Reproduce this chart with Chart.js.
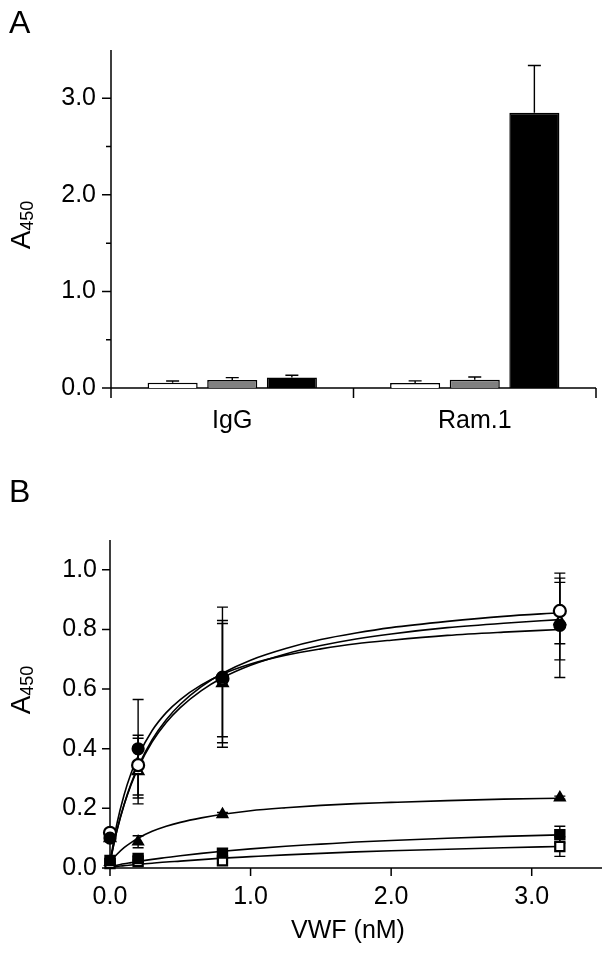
<!DOCTYPE html>
<html><head><meta charset="utf-8">
<script src="https://cdn.jsdelivr.net/npm/chart.js@4.4.1/dist/chart.umd.min.js"></script>
<style>
html,body{margin:0;padding:0;background:#fff;}
body{width:612px;height:954px;position:relative;overflow:hidden;}
#wa{position:absolute;left:0;top:0;width:612px;height:470px;}
#wb{position:absolute;left:0;top:470px;width:612px;height:484px;}
</style></head><body>
<div id="wa"><canvas id="ca"></canvas></div>
<div id="wb"><canvas id="cb"></canvas></div>
<script>
// ---------- Panel A data ----------
const categories = ['IgG', 'Ram.1'];
const barWhite = [0.055, 0.052];
const barWhiteErr = [0.018, 0.022];
const barGray = [0.082, 0.086];
const barGrayErr = [0.025, 0.028];
const barBlack = [0.11, 2.85];
const barBlackErr = [0.022, 0.49];
const aYTicks = [0, 1, 2, 3];
const aYLabels = ['0.0', '1.0', '2.0', '3.0'];
const aYMinor = [0.5, 1.5, 2.5];

// ---------- Panel B data ----------
const vwf = [0, 0.2, 0.8, 3.2];
const openCircle = [0.118, 0.345, 0.635, 0.862];
const openCircleErr = [0.012, 0.10, 0.195, 0.11];
const filledCircle = [0.10, 0.40, 0.64, 0.814];
const filledCircleErr = [0.01, 0.165, 0.235, 0.175];
const openTriangle = [0.10, 0.325, 0.62, 0.828];
const openTriangleErr = [0.01, 0.11, 0.20, 0.13];
const filledTriangle = [0.02, 0.088, 0.18, 0.236];
const filledTriangleErr = [0.005, 0.02, 0.006, 0.005];
const filledSquare = [0.025, 0.032, 0.05, 0.112];
const filledSquareErr = [0.005, 0.008, 0.008, 0.028];
const openSquare = [0.015, 0.022, 0.024, 0.072];
const openSquareErr = [0.005, 0.005, 0.006, 0.033];

// fitted curves
const curveX = [0, 0.05, 0.1, 0.15, 0.2, 0.3, 0.4, 0.5, 0.65, 0.8, 1.0, 1.25, 1.5, 1.75, 2.0, 2.4, 2.8, 3.2];
const curveOpenCircle = [0.02, 0.128, 0.213, 0.283, 0.340, 0.430, 0.497, 0.549, 0.608, 0.653, 0.697, 0.736, 0.766, 0.788, 0.806, 0.827, 0.844, 0.856];
const curveFilledCircle = [0.02, 0.150, 0.245, 0.318, 0.375, 0.461, 0.521, 0.565, 0.614, 0.650, 0.684, 0.714, 0.735, 0.752, 0.764, 0.780, 0.791, 0.800];
const curveOpenTriangle = [0.02, 0.126, 0.211, 0.279, 0.335, 0.423, 0.488, 0.538, 0.595, 0.638, 0.680, 0.718, 0.746, 0.768, 0.785, 0.806, 0.821, 0.833];
const curveFilledTriangle = [0.02, 0.046, 0.068, 0.085, 0.100, 0.123, 0.140, 0.153, 0.168, 0.180, 0.192, 0.202, 0.210, 0.216, 0.220, 0.226, 0.231, 0.234];
const curveFilledSquare = [0.005, 0.0095, 0.014, 0.018, 0.022, 0.029, 0.035, 0.041, 0.049, 0.056, 0.064, 0.073, 0.080, 0.087, 0.092, 0.100, 0.106, 0.111];
const curveOpenSquare = [0.003, 0.005, 0.008, 0.010, 0.012, 0.016, 0.020, 0.023, 0.028, 0.033, 0.038, 0.044, 0.049, 0.054, 0.058, 0.063, 0.068, 0.072];
const bYTicks = [0, 0.2, 0.4, 0.6, 0.8, 1.0];
const bYLabels = ['0.0', '0.2', '0.4', '0.6', '0.8', '1.0'];
const bXTicks = [0, 1, 2, 3];
const bXLabels = ['0.0', '1.0', '2.0', '3.0'];

const FONT = "'Liberation Sans', Arial, Helvetica, sans-serif";
Chart.defaults.font.family = FONT;
Chart.defaults.font.size = 25;
Chart.defaults.color = '#000';

function yTitle(ctx, cx, cy) {
  ctx.save();
  ctx.translate(cx, cy);
  ctx.rotate(-Math.PI / 2);
  ctx.fillStyle = '#000';
  ctx.textBaseline = 'alphabetic';
  ctx.textAlign = 'left';
  ctx.font = '28px ' + FONT;
  const wA = ctx.measureText('A').width;
  ctx.font = '18px ' + FONT;
  const wS = ctx.measureText('450').width;
  const start = -(wA + wS) / 2;
  ctx.font = '28px ' + FONT;
  ctx.fillText('A', start, 10);
  ctx.font = '18px ' + FONT;
  ctx.fillText('450', start + wA, 13);
  ctx.restore();
}
function letter(ctx, t, x, y) {
  ctx.save();
  ctx.fillStyle = '#000';
  ctx.font = '32px ' + FONT;
  ctx.textBaseline = 'alphabetic';
  ctx.textAlign = 'left';
  ctx.fillText(t, x, y);
  ctx.restore();
}

// ---------- Panel A ----------
const axesA = {
  id: 'axesA',
  beforeDatasetsDraw(chart) {
    const ctx = chart.ctx, {left, right, top, bottom} = chart.chartArea;
    const y = chart.scales.y, x = chart.scales.x;
    ctx.save();
    ctx.strokeStyle = '#000';
    ctx.lineWidth = 1.5;
    ctx.beginPath();
    ctx.moveTo(left, top); ctx.lineTo(left, bottom);
    ctx.moveTo(left, bottom); ctx.lineTo(right, bottom);
    aYTicks.forEach(v => { const p = y.getPixelForValue(v); ctx.moveTo(left - 9, p); ctx.lineTo(left, p); });
    aYMinor.forEach(v => { const p = y.getPixelForValue(v); ctx.moveTo(left - 5, p); ctx.lineTo(left, p); });
    const mid = (x.getPixelForValue(0) + x.getPixelForValue(1)) / 2;
    [left, mid, right].forEach(p => { ctx.moveTo(p, bottom); ctx.lineTo(p, bottom + 10); });
    ctx.stroke();
    ctx.restore();
  },
  afterDatasetsDraw(chart) {
    const ctx = chart.ctx, y = chart.scales.y;
    ctx.save();
    ctx.strokeStyle = '#000';
    ctx.lineWidth = 1.4;
    chart.data.datasets.forEach((ds, i) => {
      const meta = chart.getDatasetMeta(i);
      meta.data.forEach((bar, j) => {
        const t = y.getPixelForValue(ds.data[j] + ds.errors[j]);
        ctx.beginPath();
        ctx.moveTo(bar.x, bar.y); ctx.lineTo(bar.x, t);
        ctx.moveTo(bar.x - 6.5, t); ctx.lineTo(bar.x + 6.5, t);
        ctx.stroke();
      });
    });
    ctx.restore();
  },
  afterDraw(chart) {
    letter(chart.ctx, 'A', 9, 33);
    yTitle(chart.ctx, 20, 225);
  }
};

new Chart(document.getElementById('ca'), {
  type: 'bar',
  data: {
    labels: categories,
    datasets: [
      {data: barWhite, errors: barWhiteErr, backgroundColor: '#ffffff', borderColor: '#000', borderWidth: 1.5},
      {data: barGray, errors: barGrayErr, backgroundColor: '#808080', borderColor: '#000', borderWidth: 1.5},
      {data: barBlack, errors: barBlackErr, backgroundColor: '#000000', borderColor: '#000', borderWidth: 1.5}
    ]
  },
  options: {
    responsive: true, maintainAspectRatio: false, animation: false, devicePixelRatio: 1,
    layout: {padding: {left: 0, right: 16, top: 50, bottom: 0}},
    plugins: {legend: {display: false}, tooltip: {enabled: false}},
    datasets: {bar: {categoryPercentage: 0.7376, barPercentage: 0.84}},
    scales: {
      x: {
        grid: {display: false, drawTicks: false}, border: {display: false},
        ticks: {padding: 18, font: {size: 25}},
        afterFit(s) { s.height = 82; }
      },
      y: {
        min: 0, max: 3.5,
        grid: {display: false, drawTicks: false}, border: {display: false},
        ticks: {padding: 15, font: {size: 25}, callback: (v, i) => aYLabels[i]},
        afterBuildTicks(s) { s.ticks = aYTicks.map(v => ({value: v})); },
        afterFit(s) { s.width = 111; }
      }
    }
  },
  plugins: [axesA]
});

// ---------- Panel B ----------
const toXY = (xs, ys) => xs.map((x, i) => ({x: x, y: ys[i]}));
function pts(vals, errs, style, fill, r) {
  return {
    type: 'scatter', data: toXY(vwf, vals), errors: errs, order: 0,
    pointStyle: style, pointRadius: r, pointBackgroundColor: fill, pointBorderColor: '#000',
    pointBorderWidth: 2.2, showLine: false, clip: false
  };
}
function curve(vals) {
  return {
    type: 'scatter', data: toXY(curveX, vals), order: 1, showLine: true, pointRadius: 0,
    borderColor: '#000', borderWidth: 1.6, cubicInterpolationMode: 'monotone', fill: false, clip: false
  };
}

const axesB = {
  id: 'axesB',
  beforeDatasetsDraw(chart) {
    const ctx = chart.ctx, {left, right, top, bottom} = chart.chartArea;
    const y = chart.scales.y, x = chart.scales.x;
    ctx.save();
    ctx.strokeStyle = '#000';
    ctx.lineWidth = 1.5;
    ctx.beginPath();
    ctx.moveTo(left, top); ctx.lineTo(left, bottom);
    ctx.moveTo(left, bottom); ctx.lineTo(right, bottom);
    bYTicks.forEach(v => { const p = y.getPixelForValue(v); ctx.moveTo(left - 8, p); ctx.lineTo(left, p); });
    bXTicks.forEach(v => { const p = x.getPixelForValue(v); ctx.moveTo(p, bottom); ctx.lineTo(p, bottom + 8); });
    ctx.stroke();
    // error bars
    ctx.lineWidth = 1.4;
    chart.data.datasets.forEach(ds => {
      if (!ds.errors) return;
      ds.data.forEach((d, j) => {
        const e = ds.errors[j];
        const px = x.getPixelForValue(d.x);
        const t = y.getPixelForValue(d.y + e), b = y.getPixelForValue(d.y - e);
        ctx.beginPath();
        ctx.moveTo(px, t); ctx.lineTo(px, b);
        ctx.moveTo(px - 5.5, t); ctx.lineTo(px + 5.5, t);
        ctx.moveTo(px - 5.5, b); ctx.lineTo(px + 5.5, b);
        ctx.stroke();
      });
    });
    ctx.restore();
  },
  afterDraw(chart) {
    const ctx = chart.ctx;
    letter(ctx, 'B', 9, 32);
    yTitle(ctx, 20, 220);
    ctx.save();
    ctx.fillStyle = '#000';
    ctx.font = '25px ' + FONT;
    ctx.textAlign = 'center';
    ctx.textBaseline = 'alphabetic';
    ctx.fillText('VWF (nM)', 348, 468);
    ctx.restore();
  }
};

new Chart(document.getElementById('cb'), {
  type: 'scatter',
  data: {
    datasets: [
      pts(filledCircle, filledCircleErr, 'circle', '#000', 5.5),
      pts(openCircle, openCircleErr, 'circle', '#fff', 6),
      pts(openTriangle, openTriangleErr, 'triangle', '#fff', 6),
      pts(filledTriangle, filledTriangleErr, 'triangle', '#000', 5.5),
      pts(filledSquare, filledSquareErr, 'rect', '#000', 6.5),
      pts(openSquare, openSquareErr, 'rect', '#fff', 6.5),
      curve(curveOpenCircle),
      curve(curveFilledCircle),
      curve(curveOpenTriangle),
      curve(curveFilledTriangle),
      curve(curveFilledSquare),
      curve(curveOpenSquare)
    ]
  },
  options: {
    responsive: true, maintainAspectRatio: false, animation: false, devicePixelRatio: 1,
    layout: {padding: {left: 0, right: 10, top: 70, bottom: 0}},
    plugins: {legend: {display: false}, tooltip: {enabled: false}},
    scales: {
      x: {
        type: 'linear', min: 0, max: 3.5,
        grid: {display: false, drawTicks: false}, border: {display: false},
        ticks: {padding: 14, font: {size: 25}, callback: (v, i) => bXLabels[i]},
        afterBuildTicks(s) { s.ticks = bXTicks.map(v => ({value: v})); },
        afterFit(s) { s.height = 86; }
      },
      y: {
        type: 'linear', min: 0, max: 1.1,
        grid: {display: false, drawTicks: false}, border: {display: false},
        ticks: {padding: 13, font: {size: 25}, callback: (v, i) => bYLabels[i]},
        afterBuildTicks(s) { s.ticks = bYTicks.map(v => ({value: v})); },
        afterFit(s) { s.width = 110; }
      }
    }
  },
  plugins: [axesB]
});
</script>
</body></html>
